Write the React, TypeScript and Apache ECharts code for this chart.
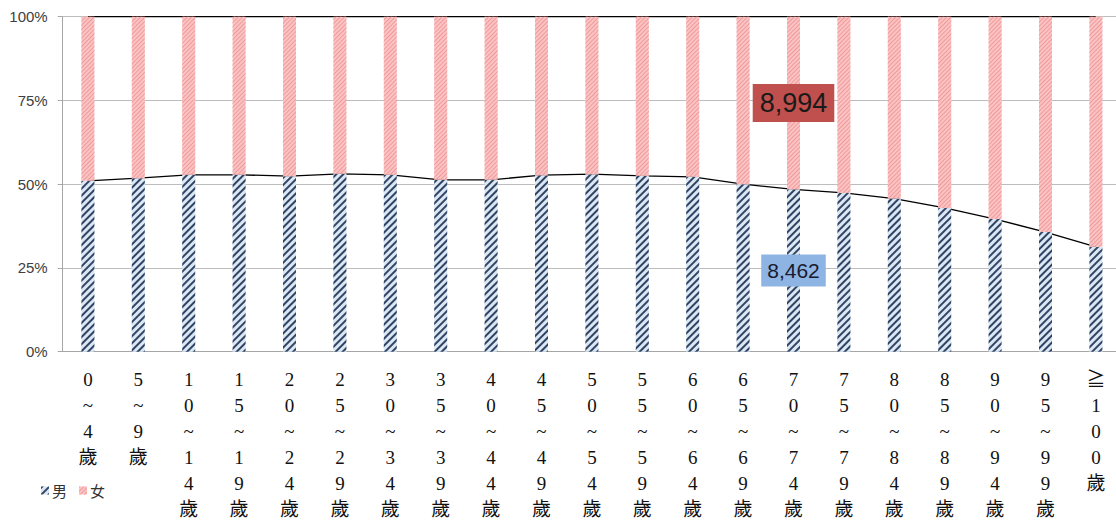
import React, { useEffect, useRef } from "react";
import * as echarts from "echarts";

const categories = [
  "0~4歲", "5~9歲", "10~14歲", "15~19歲", "20~24歲", "25~29歲", "30~34歲",
  "35~39歲", "40~44歲", "45~49歲", "50~54歲", "55~59歲", "60~64歲", "65~69歲",
  "70~74歲", "75~79歲", "80~84歲", "85~89歲", "90~94歲", "95~99歲", "≧100歲",
];

// share of males (%) per age group
const malePct = [
  51.0, 51.8, 52.8, 52.8, 52.4, 53.1, 52.8, 51.3, 51.3, 52.7, 53.0,
  52.5, 52.2, 50.0, 48.48, 47.4, 45.7, 42.9, 39.6, 35.7, 31.3,
];

const femalePct = malePct.map((m) => +(100 - m).toFixed(2));

const yTicks = [0, 25, 50, 75, 100];

const labelIndex = 14;
const maleLabel = "8,462";
const femaleLabel = "8,994";

const MALE_BASE = "#dde7f3";
const MALE_STRIPE = "#2f4566";
const FEMALE_BASE = "#fbc3c3";
const FEMALE_STRIPE = "#ef9a9a";

export default function App() {
  const ref = useRef<HTMLDivElement>(null);

  useEffect(() => {
    if (!ref.current) return;
    const chart = echarts.init(ref.current, undefined, { renderer: "svg" });

    const maleDecal = {
      symbol: "rect",
      symbolSize: 1,
      color: MALE_STRIPE,
      dashArrayX: [1, 0],
      dashArrayY: [2, 2.4],
      rotation: -Math.PI / 4,
    };
    const femaleDecal = {
      symbol: "rect",
      symbolSize: 1,
      color: FEMALE_STRIPE,
      dashArrayX: [1, 0],
      dashArrayY: [1, 1.6],
      rotation: -Math.PI / 4,
    };

    const maleData = malePct.map((v, i) =>
      i === labelIndex
        ? {
            value: v,
            label: {
              show: true,
              position: "inside",
              formatter: maleLabel,
              fontSize: 21,
              fontFamily: "'Liberation Sans', sans-serif",
              color: "#1a1a2e",
              backgroundColor: "#8db4e2",
              padding: [6, 6, 5, 6],
            },
          }
        : v
    );
    const femaleData = femalePct.map((v, i) =>
      i === labelIndex
        ? {
            value: v,
            label: {
              show: true,
              position: "inside",
              formatter: femaleLabel,
              fontSize: 27,
              fontFamily: "'Liberation Sans', sans-serif",
              color: "#1a1a1a",
              backgroundColor: "#c0504d",
              padding: [6, 7, 5, 7],
            },
          }
        : v
    );

    chart.setOption({
      animation: false,
      backgroundColor: "#ffffff",
      grid: {
        left: 62.7,
        top: 16.7,
        width: 1058.4,
        height: 335,
        outerBoundsMode: "none",
        containLabel: false,
      },
      legend: {
        data: ["男", "女"],
        left: 36,
        top: 478,
        itemWidth: 8,
        itemHeight: 8,
        itemGap: 12,
        icon: "rect",
        textStyle: {
          fontSize: 15,
          fontFamily: "'Noto Sans CJK TC', sans-serif",
          color: "#333",
          padding: [0, 0, 0, -2],
        },
      },
      xAxis: {
        type: "category",
        data: categories,
        boundaryGap: true,
        axisLine: { show: true, lineStyle: { color: "#a6a6a6", width: 1 } },
        axisTick: { show: false },
        axisLabel: {
          interval: 0,
          margin: 15,
          fontSize: 19,
          lineHeight: 26,
          color: "#111",
          fontFamily: "'Liberation Serif', 'Noto Sans CJK TC', serif",
          formatter: (v: string) => Array.from(v).join("\n"),
          verticalAlign: "top",
        },
      },
      yAxis: {
        type: "value",
        min: 0,
        max: 100,
        interval: 25,
        axisLine: { show: true, lineStyle: { color: "#a6a6a6" } },
        axisTick: { show: true, length: 5, lineStyle: { color: "#a6a6a6" } },
        splitLine: { show: true, lineStyle: { color: "#bdbdbd", width: 1 } },
        axisLabel: {
          margin: 15,
          fontSize: 15,
          color: "#404040",
          fontFamily: "'Liberation Sans', sans-serif",
          formatter: (v: number) => (yTicks.includes(v) ? `${v}%` : ""),
        },
      },
      series: [
        {
          name: "maleLine",
          type: "line",
          data: malePct,
          showSymbol: false,
          symbol: "none",
          z: 2,
          lineStyle: { color: "#000", width: 1.3 },
          silent: true,
        },
        {
          name: "topLine",
          type: "line",
          data: malePct.map(() => 100),
          showSymbol: false,
          symbol: "none",
          z: 2,
          lineStyle: { color: "#000", width: 1.3 },
          silent: true,
        },
        {
          name: "男",
          type: "bar",
          stack: "total",
          data: maleData,
          barWidth: 13,
          z: 5,
          itemStyle: { color: MALE_BASE, decal: maleDecal },
        },
        {
          name: "女",
          type: "bar",
          stack: "total",
          data: femaleData,
          barWidth: 13,
          z: 5,
          itemStyle: { color: FEMALE_BASE, decal: femaleDecal },
        },
      ],
    });

    return () => chart.dispose();
  }, []);

  return (
    <div
      ref={ref}
      style={{ position: "absolute", left: 0, top: 0, width: 1116, height: 521 }}
    />
  );
}
